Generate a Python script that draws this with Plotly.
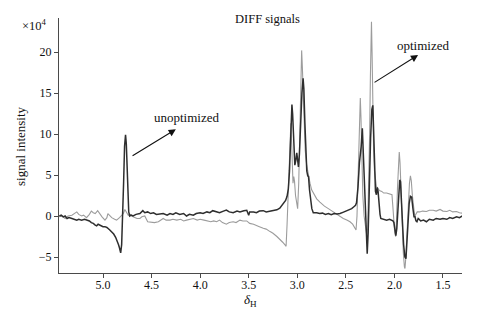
import plotly.graph_objects as go

# ---- data (chemical shift in ppm, signal intensity in units of 1e4) ----
unopt_shift = [
    5.45, 5.43, 5.41, 5.39, 5.37, 5.35, 5.32, 5.30, 5.27, 5.25, 5.22, 5.19, 5.17, 5.14, 5.12, 5.10,
    5.08, 5.065, 5.05, 5.03, 5.00, 4.98, 4.96, 4.93, 4.91, 4.89, 4.87, 4.855, 4.84, 4.83, 4.818,
    4.808, 4.798, 4.788, 4.778, 4.768, 4.760, 4.752, 4.744, 4.735, 4.725, 4.71, 4.69, 4.66, 4.62,
    4.59, 4.57, 4.54, 4.51, 4.48, 4.45, 4.41, 4.38, 4.34, 4.31, 4.28, 4.25, 4.21, 4.17, 4.14, 4.11,
    4.07, 4.04, 4.00, 3.97, 3.93, 3.90, 3.87, 3.83, 3.80, 3.76, 3.73, 3.70, 3.66, 3.62, 3.59, 3.55,
    3.52, 3.50, 3.49, 3.45, 3.42, 3.39, 3.35, 3.32, 3.28, 3.25, 3.21, 3.18, 3.15, 3.12, 3.105, 3.092,
    3.08, 3.07, 3.062, 3.055, 3.048, 3.040, 3.032, 3.025, 3.015, 3.005, 2.996, 2.988, 2.978, 2.965,
    2.952, 2.940, 2.932, 2.922, 2.912, 2.902, 2.892, 2.884, 2.874, 2.862, 2.850, 2.835, 2.80, 2.77,
    2.74, 2.71, 2.68, 2.65, 2.62, 2.59, 2.56, 2.53, 2.50, 2.47, 2.44, 2.42, 2.40, 2.39, 2.375, 2.360,
    2.342, 2.330, 2.318, 2.305, 2.292, 2.280, 2.270, 2.258, 2.245, 2.232, 2.222, 2.214, 2.205, 2.195,
    2.185, 2.178, 2.168, 2.158, 2.148, 2.140, 2.11, 2.08, 2.05, 2.03, 2.015, 2.005, 1.995, 1.985,
    1.975, 1.965, 1.955, 1.945, 1.937, 1.928, 1.918, 1.905, 1.892, 1.881, 1.872, 1.860, 1.848, 1.835,
    1.822, 1.810, 1.798, 1.788, 1.778, 1.768, 1.755, 1.745, 1.73, 1.70, 1.67, 1.64, 1.60, 1.57, 1.53,
    1.50, 1.46, 1.43, 1.40, 1.36, 1.33, 1.30,
]
unopt_signal = [
    0.0, 0.1, -0.1, 0.0, -0.3, -0.2, -0.3, -0.4, -0.5, -0.4, -0.5, -0.4, -0.5, -0.6, -0.8, -0.9,
    -1.1, -1.2, -1.0, -1.1, -1.3, -1.3, -1.4, -1.7, -1.9, -2.2, -2.6, -3.0, -3.5, -3.9, -4.5,
    -3.5, -0.5, 4.0, 8.5, 9.9, 8.8, 5.0, 2.0, 0.5, 0.0, 0.1, 0.0, 0.2, 0.3,
    0.65, 0.4, 0.5, 0.3, 0.4, 0.2, 0.25, 0.3, 0.1, 0.3, 0.2, 0.4, 0.2, 0.3, 0.0, 0.2,
    0.1, 0.3, 0.4, 0.3, 0.5, 0.4, 0.65, 0.5, 0.4, 0.6, 0.73, 0.5, 0.4, 0.6, 0.5, 0.65,
    0.7, 0.1, 0.5, 0.5, 0.4, 0.6, 0.65, 0.5, 0.6, 0.7, 0.75, 0.95, 1.4, 1.9, 2.4, 3.3,
    5.5, 9.0, 12.0, 13.6, 12.5, 9.5, 7.0, 6.2, 6.8, 7.7, 6.8, 6.0, 7.5, 11.5,
    15.0, 16.8, 15.5, 11.5, 7.5, 5.5, 4.9, 4.8, 3.2, 1.8, 0.9, 0.4, 0.4, 0.3,
    0.35, 0.2, 0.3, 0.15, 0.3, 0.25, 0.3, 0.45, 0.6, 0.7, 0.9, 1.1, 1.3, 1.6, 3.5, 6.5,
    8.5, 10.7, 7.0, 1.5, -2.5, -4.6, -2.0, 4.0, 9.5, 13.0, 13.5, 10.5, 6.0, 3.0,
    2.6, 3.5, 3.0, 1.0, 0.2, -0.3, -0.4, -0.5, -0.4, -0.5, -0.6, -0.8, -2.0, -2.4,
    -1.5, 1.0, 3.8, 4.4, 4.2, 2.5, -0.5, -3.5, -5.0, -5.2, -3.5, -0.5, 1.5, 2.4,
    2.3, 1.0, -0.1, -0.1, -0.6, -0.7, -0.3, -0.4, -0.6, -0.5, -0.7, -0.4, -0.5, -0.3, -0.4,
    -0.3, -0.4, -0.2, -0.3, -0.1, -0.2, 0.0,
]

opt_shift = [
    5.45, 5.42, 5.39, 5.36, 5.32, 5.29, 5.27, 5.25, 5.22, 5.20, 5.17, 5.14, 5.12, 5.10, 5.08, 5.055,
    5.03, 5.01, 4.98, 4.96, 4.95, 4.93, 4.91, 4.88, 4.86, 4.83, 4.81, 4.79, 4.775, 4.76, 4.74, 4.72,
    4.69, 4.65, 4.62, 4.60, 4.57, 4.54, 4.50, 4.47, 4.43, 4.40, 4.38, 4.35, 4.31, 4.28, 4.24, 4.20,
    4.17, 4.14, 4.10, 4.07, 4.03, 4.00, 3.96, 3.93, 3.89, 3.86, 3.83, 3.80, 3.77, 3.73, 3.70, 3.66,
    3.63, 3.59, 3.56, 3.52, 3.49, 3.45, 3.42, 3.39, 3.35, 3.32, 3.28, 3.25, 3.21, 3.18, 3.15, 3.12,
    3.115, 3.105, 3.095, 3.085, 3.075, 3.066, 3.058, 3.050, 3.044, 3.036, 3.028, 3.018, 3.005, 2.996,
    2.985, 2.972, 2.962, 2.955, 2.947, 2.938, 2.928, 2.918, 2.903, 2.886, 2.869, 2.852, 2.835, 2.80,
    2.767, 2.72, 2.68, 2.64, 2.594, 2.56, 2.526, 2.49, 2.457, 2.43, 2.41, 2.395, 2.385, 2.375, 2.365,
    2.357, 2.351, 2.344, 2.335, 2.325, 2.312, 2.298, 2.285, 2.275, 2.265, 2.255, 2.247, 2.240, 2.236,
    2.230, 2.222, 2.214, 2.205, 2.195, 2.185, 2.170, 2.155, 2.130, 2.110, 2.08, 2.05, 2.025, 2.015,
    2.007, 1.997, 1.987, 1.978, 1.968, 1.958, 1.950, 1.942, 1.932, 1.920, 1.908, 1.897, 1.891, 1.882,
    1.870, 1.858, 1.845, 1.835, 1.826, 1.815, 1.800, 1.790, 1.780, 1.765, 1.74, 1.71, 1.67, 1.64,
    1.60, 1.57, 1.53, 1.50, 1.46, 1.43, 1.40, 1.36, 1.33, 1.30,
]
opt_signal = [
    -0.1, 0.0, -0.3, 0.0, 0.1, 0.4, 0.5, 0.2, 0.0, 0.1, -0.2, 0.2, 0.6, 0.4, 0.3, 0.65,
    0.2, -0.1, -0.5, -0.2, 0.3, 0.0, -0.2, -0.4, -0.5, -0.2, 0.1, 0.3, 0.8, 0.5, 0.1, 0.2,
    -0.1, -0.3, -0.3, -0.1, 0.0, -0.7, -0.8, -0.8, -0.7, -0.4, -0.3, -0.5, -0.5, -0.4, -0.5, -0.4,
    -0.6, -0.5, -0.4, -0.3, -0.5, -0.4, -0.5, -0.6, -0.7, -0.6, -0.7, -0.5, -0.8, -1.0, -0.8, -0.7,
    -0.8, -0.5, -0.6, -0.6, -0.9, -1.0, -1.2, -1.3, -1.5, -1.6, -1.9, -2.1, -2.5, -2.8, -3.2, -3.6,
    -3.7, -1.0, 2.5, 6.5, 10.0, 11.3, 9.0, 5.5, 4.0, 4.8, 4.2, 2.5, 1.2, 0.9,
    4.0, 11.0, 17.5, 20.2, 18.0, 14.0, 11.0, 8.0, 6.2, 4.8, 4.0, 3.2, 2.8, 2.1,
    1.7, 1.2, 0.9, 0.6, 0.2, -0.1, -0.3, -0.5, -0.7, -1.0, -1.4, -1.7, 0.0, 3.5, 8.5,
    12.5, 14.4, 12.0, 7.0, 2.5, 0.0, -1.5, -2.3, -1.5, 3.0, 10.0, 17.0, 22.0, 23.7,
    20.0, 13.0, 8.0, 5.5, 4.2, 3.6, 3.4, 3.1, 3.0, 2.8, 2.8, 2.7, 2.6, 1.0,
    -0.5, -2.0, -2.5, -0.5, 3.5, 6.8, 7.8, 6.5, 3.0, -1.0, -4.5, -6.2, -6.4, -5.0,
    -2.0, 1.5, 4.0, 4.9, 4.3, 2.5, 0.5, -0.1, 0.2, 0.5, 0.5, 0.6, 0.55, 0.7,
    0.7, 0.6, 0.8, 0.6, 0.55, 0.7, 0.5, 0.55, 0.4, 0.35,
]

x_tick_values = [5.0, 4.5, 4.0, 3.5, 3.0, 2.5, 2.0, 1.5]
x_tick_labels = ["5.0", "4.5", "4.0", "3.5", "3.0", "2.5", "2.0", "1.5"]
y_tick_values = [-5, 0, 5, 10, 15, 20]
y_tick_labels = ["\u22125", "0", "5", "10", "15", "20"]

FONT = "Liberation Serif, Times New Roman, serif"
AXIS = "#4a4a4a"

fig = go.Figure()
fig.add_trace(go.Scatter(x=opt_shift, y=opt_signal, mode="lines", name="optimized",
                         line=dict(color="#9c9c9c", width=1.1), hoverinfo="skip"))
fig.add_trace(go.Scatter(x=unopt_shift, y=unopt_signal, mode="lines", name="unoptimized",
                         line=dict(color="#2e2e2e", width=1.5), hoverinfo="skip"))

# the page body has an 8px default margin, so the figure is offset by 8px
OFF = 8
W, H = 490 - 2 * OFF, 314 - OFF
# plot area in reference-window pixels
PL, PR, PT, PB = 59, 462, 18, 273
L, R, T, B = PL - OFF, (W + OFF) - PR, PT - OFF, (H + OFF) - PB
pw, ph = PR - PL, PB - PT


def px(xp):
    return (xp - PL) / pw


def py(yp):
    return (PB - yp) / ph


fig.update_layout(
    width=W, height=H,
    margin=dict(l=L, r=R, t=T, b=B, pad=0),
    paper_bgcolor="white", plot_bgcolor="white",
    showlegend=False,
    font=dict(family=FONT, size=12, color="#111"),
    xaxis=dict(range=[5.453, 1.304], tickvals=x_tick_values, ticktext=x_tick_labels,
               showgrid=False, zeroline=False, showline=True, linecolor=AXIS, linewidth=1,
               ticks="outside", ticklen=4, tickcolor=AXIS, tickwidth=1, automargin=False,
               ticklabelstandoff=-3,
               tickfont=dict(family=FONT, size=12, color="#111")),
    yaxis=dict(range=[-6.95, 24.15], tickvals=y_tick_values, ticktext=y_tick_labels,
               showgrid=False, zeroline=False, showline=True, linecolor=AXIS, linewidth=1,
               ticks="outside", ticklen=4, tickcolor=AXIS, tickwidth=1, automargin=False,
               tickfont=dict(family=FONT, size=12, color="#111")),
)

ann = [
    dict(text="DIFF signals", x=px(267), y=py(19), xref="paper", yref="paper",
         showarrow=False, font=dict(size=12.5), xanchor="center", yanchor="middle"),
    dict(text="\u00d710<sup>4</sup>", x=px(49), y=py(25), xref="paper", yref="paper",
         showarrow=False, font=dict(size=12.5), xanchor="right", yanchor="middle"),
    dict(text="signal intensity", x=px(20), y=py(146), xref="paper", yref="paper",
         showarrow=False, textangle=-90, font=dict(size=13), xanchor="center", yanchor="middle"),
    dict(text="<i>\u03b4</i><sub>H</sub>", x=px(250), y=py(300), xref="paper", yref="paper",
         showarrow=False, font=dict(size=13), xanchor="center", yanchor="middle"),
    dict(text="unoptimized", x=4.144, y=12.07, xref="x", yref="y",
         showarrow=False, font=dict(size=13), xanchor="center", yanchor="middle"),
    dict(text="optimized", x=1.706, y=20.77, xref="x", yref="y",
         showarrow=False, font=dict(size=13), xanchor="center", yanchor="middle"),
    dict(text="", x=4.25, y=10.57, ax=4.711, ay=7.23, xref="x", yref="y", axref="x", ayref="y",
         showarrow=True, arrowhead=2, arrowsize=1.3, arrowwidth=1.1, arrowcolor="#111", standoff=0),
    dict(text="", x=1.756, y=19.63, ax=2.220, ay=16.18, xref="x", yref="y", axref="x", ayref="y",
         showarrow=True, arrowhead=2, arrowsize=1.3, arrowwidth=1.1, arrowcolor="#111", standoff=0),
]
fig.update_layout(annotations=ann)

fig.write_html("out.html")
